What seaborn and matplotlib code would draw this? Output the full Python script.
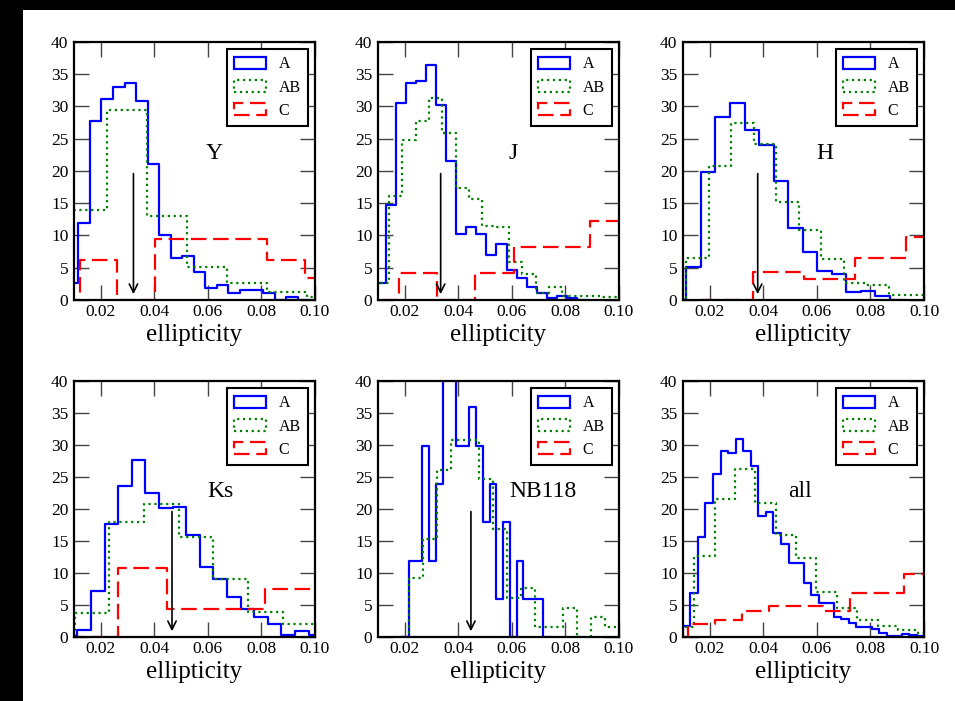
import numpy as np
import pandas as pd
import matplotlib
matplotlib.use("Agg")
import matplotlib.pyplot as plt
import seaborn as sns
from matplotlib.patches import Patch, Rectangle

# ---------------- data ----------------
bands = ["Y", "J", "H", "Ks", "NB118", "all"]
series = ["A", "AB", "C"]
xticks = [0.02, 0.04, 0.06, 0.08, 0.10]
xtick_labels = ["0.02", "0.04", "0.06", "0.08", "0.10"]
yticks = [0, 5, 10, 15, 20, 25, 30, 35, 40]
ytick_labels = ["0", "5", "10", "15", "20", "25", "30", "35", "40"]
# median ellipticity (arrow position) for each band; None = no arrow
median_ell = [0.0322, 0.0334, 0.0379, 0.0466, 0.0447, None]

# first bin edge and bin width of each histogram, per band (Y, J, H, Ks, NB118, all)
A_start = [0.00731, 0.00937, 0.01125, 0.01125, 0.02158, 0.00992]
A_width = [0.00431, 0.00374, 0.00543, 0.00508, 0.00251, 0.00282]
AB_start = [0.00755, 0.00912, 0.01125, 0.01024, 0.02158, 0.00664]
AB_width = [0.01490, 0.00498, 0.00840, 0.01296, 0.00523, 0.00760]
C_start = [0.01224, 0.01785, 0.03620, 0.02656, 0.02158, 0.01175]
C_width = [0.01400, 0.01426, 0.01900, 0.01830, 0.01000, 0.01010]

# histogram heights
Y_A = [2.6, 11.9, 27.7, 31.1, 33.1, 33.6, 30.8, 21.1, 10.0, 6.5, 6.8, 4.4, 1.9,
       2.4, 1.1, 1.5, 1.5, 1.1, 0.0, 0.5]
Y_AB = [13.9, 29.4, 13.0, 5.15, 2.7, 1.3, 0.4]
Y_C = [6.2, 0.0, 9.4, 9.4, 9.4, 6.2, 3.35]

J_A = [2.7, 14.7, 30.6, 33.6, 33.9, 36.5, 30.3, 21.6, 10.3, 11.3, 10.3, 7.0, 8.7,
       4.7, 3.35, 2.06, 1.1, 0.26, 0.67, 0.36]
J_AB = [2.7, 16.1, 24.8, 27.7, 31.3, 25.9, 17.4, 15.6, 11.5, 11.3, 5.9, 4.0, 1.1,
        1.96, 0.67, 0.6, 0.6, 0.5, 0.3, 0.3]
J_C = [4.2, 0.0, 4.2, 8.2, 8.2, 12.3, 12.3]

H_A = [5.05, 19.8, 28.4, 30.6, 26.3, 24.1, 18.5, 11.2, 7.5, 4.5, 4.0, 1.3, 1.4, 0.6]
H_AB = [6.55, 20.7, 27.5, 24.2, 15.2, 10.8, 6.3, 2.6, 2.4, 0.8, 0.8]
H_C = [4.3, 3.25, 6.55, 9.7]

Ks_A = [1.15, 7.2, 17.6, 23.6, 27.6, 22.5, 20.2, 20.3, 16.0, 10.9, 9.0, 6.25, 4.3,
        3.1, 2.0, 0.36, 0.94, 0.26]
Ks_AB = [3.8, 17.9, 20.8, 15.7, 9.0, 3.9, 2.1]
Ks_C = [10.8, 4.3, 4.3, 7.45, 7.45]

NB118_A = [11.95, 11.95, 29.9, 11.95, 23.9, 47.8, 41.8, 29.9, 29.9, 35.9, 29.9,
           17.9, 23.9, 5.97, 17.9, 0.0, 11.95, 5.97, 5.97, 5.97]
NB118_AB = [9.15, 15.3, 26.1, 30.8, 30.8, 24.7, 16.9, 6.1, 7.7, 1.56, 1.56, 4.6,
            0.0, 3.1, 1.56]
NB118_C = []

all_A = [1.67, 6.9, 15.6, 20.9, 25.5, 29.1, 28.8, 31.0, 29.0, 26.7, 18.85, 19.6,
         16.3, 14.5, 11.6, 11.6, 8.5, 6.5, 5.3, 5.3, 3.07, 2.86, 2.2, 1.56, 1.56,
         1.3, 0.68, 0.2, 0.2, 0.5, 0.3, 0.2]
all_AB = [1.56, 12.65, 21.6, 26.2, 21.0, 16.0, 12.3, 7.1, 4.6, 2.6, 1.67, 1.15, 0.68]
all_C = [2.0, 2.7, 4.06, 4.8, 4.8, 4.1, 6.9, 6.9, 9.8]

heights = {
    "Y": [Y_A, Y_AB, Y_C],
    "J": [J_A, J_AB, J_C],
    "H": [H_A, H_AB, H_C],
    "Ks": [Ks_A, Ks_AB, Ks_C],
    "NB118": [NB118_A, NB118_AB, NB118_C],
    "all": [all_A, all_AB, all_C],
}
starts = [A_start, AB_start, C_start]
widths = [A_width, AB_width, C_width]

# ---------------- style ----------------
colors = ["#0000ff", "#008000", "#ff0000"]
styles = ["-", ":", (0, (7, 3))]
label_pos = [(0.581, 0.547), (0.560, 0.547), (0.5875, 0.547),
             (0.606, 0.547), (0.685, 0.547), (0.4875, 0.547)]

plt.rcParams["font.family"] = ["Liberation Serif", "DejaVu Serif"]

W, H = 955, 701
fig = plt.figure(figsize=(W / 100, H / 100), dpi=100, facecolor="black")
fig.add_artist(Rectangle((23 / W, 0), 1 - 23 / W, 1 - 10 / H,
                         transform=fig.transFigure, facecolor="white",
                         edgecolor="none", zorder=-10))

lefts = [74, 378, 683]
tops = [42, 381]
axw = 241
axh = [258, 256]

for i, band in enumerate(bands):
    r, c = divmod(i, 3)
    ax = fig.add_axes([lefts[c] / W, 1 - (tops[r] + axh[r]) / H, axw / W, axh[r] / H])
    ax.set_facecolor("white")
    for k, s in enumerate(series):
        vals = heights[band][k]
        if len(vals) == 0:
            continue
        st, wd = starts[k][i], widths[k][i]
        n = len(vals)
        # pad with an empty bin on each side so the outline drops to zero
        edges = st + wd * np.arange(-1, n + 2)
        h = np.concatenate([[0.0], vals, [0.0]])
        df = pd.DataFrame({"ell": 0.5 * (edges[:-1] + edges[1:]), "w": h})
        sns.histplot(data=df, x="ell", weights="w", bins=list(edges),
                     element="step", fill=False, color=colors[k],
                     linestyle=styles[k], linewidth=1.6, ax=ax)
    if median_ell[i] is not None:
        ax.annotate("", xy=(median_ell[i], 0.9), xytext=(median_ell[i], 19.6),
                    arrowprops=dict(arrowstyle="->", color="black", lw=1.2,
                                    mutation_scale=15, shrinkA=0, shrinkB=0))
    ax.text(label_pos[i][0], label_pos[i][1], band, transform=ax.transAxes,
            ha="center", va="baseline", fontsize=17)
    ax.set_xlim(0.01, 0.10)
    ax.set_ylim(0, 40)
    ax.set_xticks(xticks)
    ax.set_xticklabels(xtick_labels)
    ax.set_yticks(yticks)
    ax.set_yticklabels(ytick_labels)
    ax.set_ylabel("")
    ax.set_xlabel("ellipticity", fontsize=18, labelpad=3)
    ax.tick_params(direction="in", length=11, width=1.0, color="#444444",
                   top=True, right=True, labelsize=12.5)
    ax.tick_params(axis="x", pad=3)
    ax.tick_params(axis="y", pad=4)
    for sp in ax.spines.values():
        sp.set_linewidth(1.6)
        sp.set_color("black")
        sp.set_zorder(3)
    handles = [Patch(facecolor="none", edgecolor=colors[k], linestyle=styles[k],
                     linewidth=1.6) for k in range(3)]
    leg = ax.legend(handles, series, loc="upper right", fontsize=11.5,
                    frameon=True, fancybox=False, framealpha=1, edgecolor="black",
                    handlelength=2.0, handleheight=0.75, handletextpad=0.8,
                    labelspacing=0.45, borderpad=0.45, borderaxespad=0.45)
    leg.get_frame().set_linewidth(1.5)

fig.savefig("out.png", dpi=100, facecolor="black")
